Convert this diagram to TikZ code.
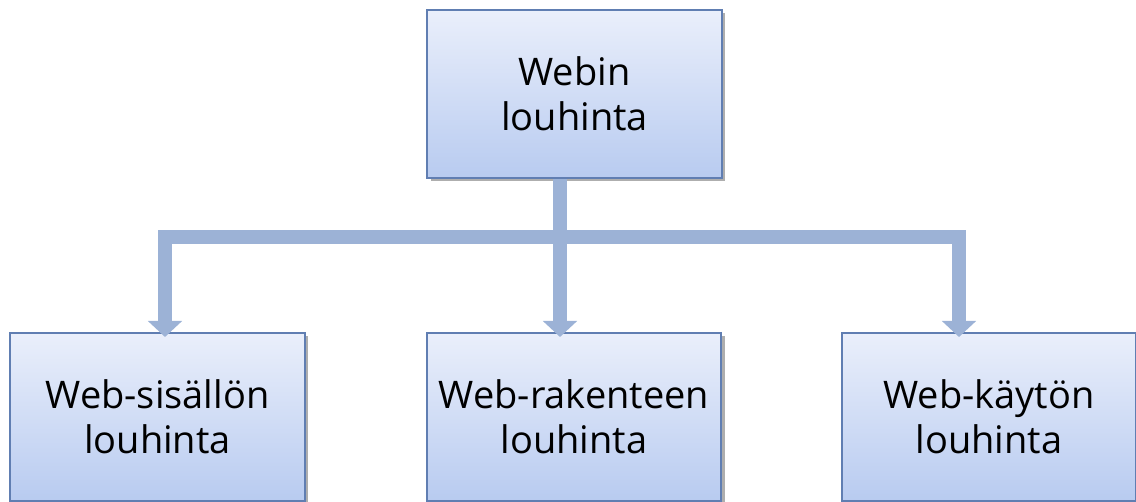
\documentclass[tikz,border=0pt]{standalone}
\usepackage{fontspec}
\setmainfont{Open Sans}
\usepackage{tikz}
\usetikzlibrary{arrows.meta,shadows}

\definecolor{boxline}{RGB}{96,126,178}
\definecolor{boxtop}{RGB}{234,239,251}
\definecolor{boxbottom}{RGB}{184,203,240}
\definecolor{branchcol}{RGB}{156,178,214}

\tikzset{
  mining/.style={draw=boxline, line width=1.5pt, top color=boxtop, bottom color=boxbottom,
    minimum width=221pt, minimum height=126pt, align=center, inner sep=0pt,
    font=\fontsize{28.5}{34}\selectfont,
    drop shadow={shadow xshift=2.5pt, shadow yshift=-2.5pt, fill=black!45, opacity=0.7}},
  branch/.style={draw=branchcol, line width=10.5pt, line join=miter,
    -{Triangle[width=25pt, length=12pt]}},
  stem/.style={draw=branchcol, line width=10.5pt, line join=miter}
}

\begin{document}
\begin{tikzpicture}[x=0.75pt,y=0.75pt,yscale=-1,xscale=1]
\useasboundingbox (0,0) rectangle (1136,502);

% Boxes
\node[mining] (webin) at (574.5,94) {Webin\\louhinta};
\node[mining] (sisalto) at (157.5,417) {Web-sisällön\\louhinta};
\node[mining] (rakenne) at (574,417) {Web-rakenteen\\louhinta};
\node[mining] (kaytto) at (989,417) {Web-käytön\\louhinta};

% Branch points
\coordinate (split) at (560,237);
\coordinate (inSisalto) at (165,337);
\coordinate (inRakenne) at (560,337);
\coordinate (inKaytto) at (959,337);

% Connectors
\draw[stem] (webin.south -| split) -- (split);
\draw[branch] (split) -| (inSisalto);
\draw[branch] (split) -- (inRakenne);
\draw[branch] (split) -| (inKaytto);

\end{tikzpicture}
\end{document}
